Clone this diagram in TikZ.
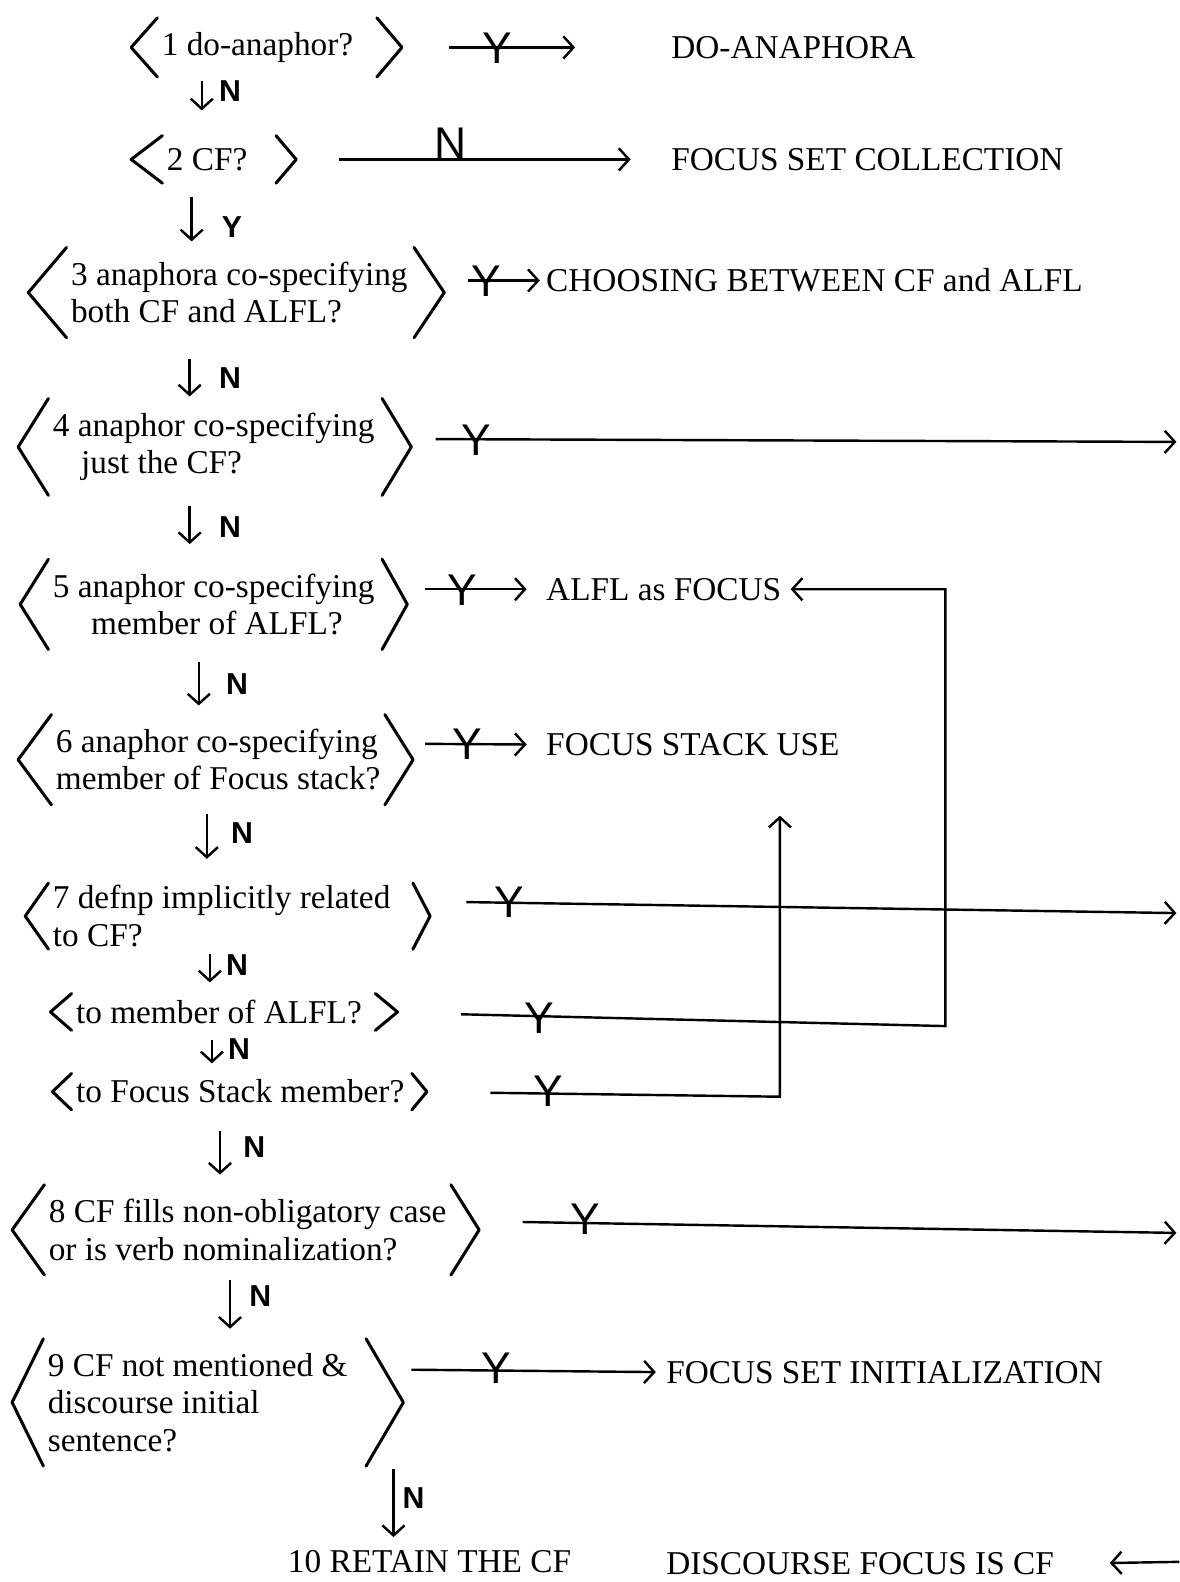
\documentclass[tikz,border=0pt]{standalone}
\usepackage{fontspec}
\setmainfont{Liberation Serif}
\newfontfamily\handfont{Liberation Sans}
\usetikzlibrary{arrows.meta}

\begin{document}
\begin{tikzpicture}[x=0.5pt, y=-0.5pt, >={Straight Barb[length=5pt,width=11pt]},
    query/.style={anchor=west, align=left, inner xsep=2pt, inner ysep=7pt, font=\fontsize{16.5}{18.5}\selectfont},
    outcome/.style={anchor=west, inner sep=2pt, font=\fontsize{16.5}{18.5}\selectfont},
    chev/.style={line width=1.5pt, line cap=round, line join=round},
    flow/.style={->, line width=1.2pt},
    acrossyn/.style={anchor=base, inner sep=0pt, font=\handfont\fontsize{22}{22}\selectfont},
    besideyn/.style={inner sep=0pt, font=\handfont\bfseries\fontsize{15}{15}\selectfont}]
    \useasboundingbox (0,0) rectangle (1169,1568);

    % questions
    \node[query] (q1) at (156,47) {1 do-anaphor?};
    \node[query, inner ysep=6pt] (q2) at (161,158) {2 CF?};
    \node[query] (q3) at (66,290) {3 anaphora co-specifying\\both CF and ALFL?};
    \node[query] (q4) at (48,443) {4 anaphor co-specifying\\\hspace*{14pt}just the CF?};
    \node[query] (q5) at (48,599) {5 anaphor co-specifying\\\hspace*{19pt}member of ALFL?};
    \node[query] (q6) at (51,753) {6 anaphor co-specifying\\member of Focus stack?};
    \node[query, inner ysep=1pt] (q7) at (48,908) {7 defnp implicitly related\\to CF?};
    \node[query, inner ysep=3pt] (q7a) at (71,1003) {to member of ALFL?};
    \node[query, inner ysep=3pt] (q7b) at (71,1082) {to Focus Stack member?};
    \node[query] (q8) at (44,1219) {8 CF fills non-obligatory case\\or is verb nominalization?};
    \node[query] (q9) at (43,1390) {9 CF not mentioned \&\\discourse initial\\sentence?};

    % angle brackets round each question
    \foreach \q/\lw/\gw/\rw in {q1/13/9.5/12.5, q2/15.5/12/10, q3/19/1/15, q4/15/1.5/14.5,
        q5/14/1.5/12.5, q6/16.5/0/14, q7/11.5/9/8.5, q7a/10.5/4.5/11, q7b/9.5/1.5/7.5,
        q8/16/0/14, q9/15.5/7/18.5} {
      \draw[chev] (\q.north west) -- ([xshift=-\lw pt]\q.west) -- (\q.south west);
      \draw[chev] ([xshift=\gw pt]\q.north east) -- ([xshift=\gw pt+\rw pt]\q.east) -- ([xshift=\gw pt]\q.south east);
    }

    % outcomes
    \node[outcome] (doana) at (661,47) {DO-ANAPHORA};
    \node[outcome] (fscoll) at (661,158) {FOCUS SET COLLECTION};
    \node[outcome] (choose) at (537,278) {CHOOSING BETWEEN CF and ALFL};
    \node[outcome] (alfl) at (537,584) {ALFL as FOCUS};
    \node[outcome] (fsuse) at (537,738) {FOCUS STACK USE};
    \node[outcome] (fsinit) at (656,1360) {FOCUS SET INITIALIZATION};
    \node[outcome] (retain) at (281,1548) {10 RETAIN THE CF};
    \node[outcome] (dfocus) at (656,1550) {DISCOURSE FOCUS IS CF};

    \coordinate (e4) at (1166,438);
    \coordinate (e7) at (1166,905);
    \coordinate (e8) at (1166,1222);
    \coordinate (e10) at (1169,1548);
    \coordinate (c7a) at (937,1017);
    \coordinate (c7b) at (773,1087);

    % yes branches
    \draw[flow, shorten <=45.5pt, shorten >=45.5pt] (q1.east) -- (doana.west);
    \draw[flow, shorten <=43pt, shorten >=18pt] (q2.east) -- (fscoll.west);
    \draw[flow, shorten <=28pt, shorten >=1pt] ([yshift=6pt]q3.east) -- (choose.west);
    \draw[flow, shorten <=28pt] ([yshift=4pt]q4.east) -- (e4);
    \draw[flow, shorten <=23pt, shorten >=7.5pt] ([yshift=7.5pt]q5.east) -- (alfl.west);
    \draw[flow, shorten <=20pt, shorten >=7.5pt] ([yshift=8pt]q6.east) -- (fsuse.west);
    \draw[flow, shorten <=35.5pt] ([yshift=7.5pt]q7.east) -- (e7);
    \draw[flow, shorten <=47pt, shorten >=2.5pt] (q7a.east) -- (c7a) |- (alfl.east);
    \draw[flow, shorten <=40.5pt, shorten >=27.5pt] (q7b.east) -- (c7b) -- (c7b |- fsuse.south);
    \draw[flow, shorten <=35.5pt] ([yshift=4.5pt]q8.east) -- (e8);
    \draw[flow, shorten <=29.5pt, shorten >=3pt] ([yshift=16.5pt]q9.east) -- (fsinit.west);
    \draw[flow, shorten >=25.5pt] (e10) -- (dfocus.east);

    % no branches, going down
    \draw[flow, shorten <=2pt, shorten >=12.5pt] ([xshift=22pt]q1.south west) -- ([xshift=22pt]q1.south west |- q2.north);
    \draw[flow, shorten <=7pt, shorten >=3pt] ([xshift=14.5pt]q2.south west) -- ([xshift=14.5pt]q2.south west |- q3.north);
    \draw[flow, shorten <=10.5pt, shorten >=1pt] ([xshift=61pt]q3.south west) -- ([xshift=61pt]q3.south west |- q4.north);
    \draw[flow, shorten <=5pt, shorten >=7.5pt] ([xshift=70pt]q4.south west) -- ([xshift=70pt]q4.south west |- q5.north);
    \draw[flow, shorten <=6pt, shorten >=4.5pt] ([xshift=74.5pt]q5.south west) -- ([xshift=74.5pt]q5.south west |- q6.north);
    \draw[flow, shorten <=4.5pt, shorten >=12pt] ([xshift=77pt]q6.south west) -- ([xshift=77pt]q6.south west |- q7.north);
    \draw[flow, shorten <=2.5pt, shorten >=5.5pt] ([xshift=80pt]q7.south west) -- ([xshift=80pt]q7.south west |- q7a.north);
    \draw[flow, shorten <=5pt, shorten >=5pt] ([xshift=69.5pt]q7a.south west) -- ([xshift=69.5pt]q7a.south west |- q7b.north);
    \draw[flow, shorten <=10.5pt, shorten >=5pt] ([xshift=73.5pt]q7b.south west) -- ([xshift=73.5pt]q7b.south west |- q8.north);
    \draw[flow, shorten <=2.5pt, shorten >=5pt] ([xshift=92pt]q8.south west) -- ([xshift=92pt]q8.south west |- q9.north);
    \draw[flow, shorten <=1.5pt, shorten >=4.5pt] ([xshift=173.5pt]q9.south west) -- ([xshift=173.5pt]q9.south west |- retain.north);

    % Y and N marks
    \node[acrossyn] (y1) at (493,63) {Y};
    \node[acrossyn] (n2) at (447,157) {N};
    \node[acrossyn] (y3) at (482,294) {Y};
    \node[acrossyn] (y4) at (472,451) {Y};
    \node[acrossyn] (y5) at (458,600) {Y};
    \node[acrossyn] (y6) at (463,753) {Y};
    \node[acrossyn] (y7) at (505,909) {Y};
    \node[acrossyn] (y7a) at (535,1024) {Y};
    \node[acrossyn] (y7b) at (543,1097) {Y};
    \node[acrossyn] (y8) at (580,1224) {Y};
    \node[acrossyn] (y9) at (492,1371) {Y};

    \node[besideyn] (n1) at (228,90) {N};
    \node[besideyn] (y2) at (230,225) {Y};
    \node[besideyn] (n3) at (228,375) {N};
    \node[besideyn] (n4) at (228,522) {N};
    \node[besideyn] (n5) at (235,678) {N};
    \node[besideyn] (n6) at (240,826) {N};
    \node[besideyn] (n7) at (235,957) {N};
    \node[besideyn] (n7a) at (237,1040) {N};
    \node[besideyn] (n7b) at (252,1137) {N};
    \node[besideyn] (n8) at (258,1285) {N};
    \node[besideyn] (n9) at (410,1485) {N};
\end{tikzpicture}
\end{document}
